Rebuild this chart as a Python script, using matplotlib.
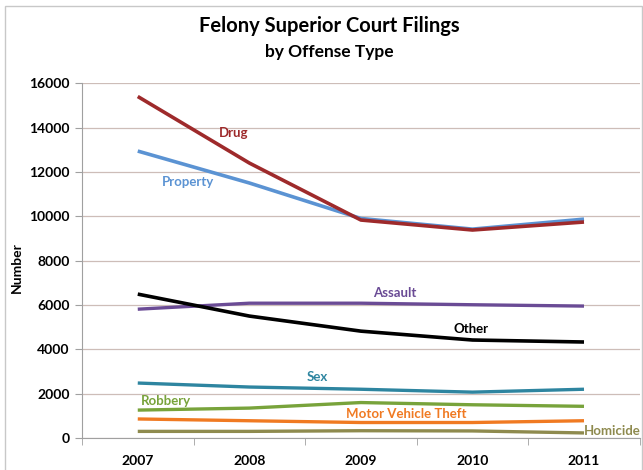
import matplotlib
matplotlib.use("Agg")
import matplotlib.pyplot as plt
from matplotlib.patches import Rectangle

years = ["2007", "2008", "2009", "2010", "2011"]
drug = [15400, 12400, 9830, 9380, 9740]
property_ = [12940, 11500, 9900, 9420, 9870]
assault = [5810, 6080, 6080, 6010, 5950]
other = [6490, 5500, 4820, 4420, 4330]
sex = [2480, 2300, 2200, 2070, 2200]
robbery = [1260, 1350, 1600, 1500, 1430]
mvt = [860, 780, 700, 700, 780]
homicide = [300, 300, 330, 320, 230]

series = [
    ("Property", property_, "#5B93D3"),
    ("Drug", drug, "#9E2A2B"),
    ("Assault", assault, "#6A4B95"),
    ("Other", other, "#000000"),
    ("Sex", sex, "#2E85A0"),
    ("Robbery", robbery, "#78A33B"),
    ("Motor Vehicle Theft", mvt, "#F07A22"),
    ("Homicide", homicide, "#8E8A4E"),
]
# label positions (category index, value, ha)
label_pos = {
    "Drug": (0.86, 13750, "center"),
    "Property": (0.45, 11540, "center"),
    "Assault": (2.3, 6530, "center"),
    "Other": (2.99, 4910, "center"),
    "Sex": (1.61, 2750, "center"),
    "Robbery": (0.25, 1670, "center"),
    "Motor Vehicle Theft": (2.41, 1080, "center"),
    "Homicide": (4.0, 300, "left"),
}

font = "Lato"
fig = plt.figure(figsize=(6.43, 4.70), dpi=100)
fig.patches.append(Rectangle((0.008, -0.01), 0.99, 0.998, transform=fig.transFigure,
                             fill=False, edgecolor="#C8C8C8", linewidth=1.0))
ax = fig.add_axes([0.1275, 0.068, 0.8675, 0.755])

x = list(range(len(years)))
for name, vals, col in series:
    lw = 2.6 if name in ("Drug", "Other", "Property") else 2.4
    ax.plot(x, vals, color=col, linewidth=lw, solid_capstyle="butt")
    lx, ly, ha = label_pos[name]
    ax.text(lx, ly, name, color=col, ha=ha, va="center", fontsize=9.5,
            fontweight="bold", family=font)

ax.set_xlim(-0.5, 4.5)
ax.set_ylim(0, 16000)
ax.set_yticks(range(0, 16001, 2000))
ax.set_yticklabels([str(v) for v in range(0, 16001, 2000)], family=font,
                   fontweight="bold", fontsize=10)
ax.set_xticks(x)
ax.set_xticklabels(years, family=font, fontweight="bold", fontsize=10)
ax.set_xticks([i - 0.5 for i in range(len(years) + 1)], minor=True)
ax.tick_params(axis="x", which="major", length=0, pad=12)
ax.tick_params(axis="x", which="minor", length=5, color="#A0A0A0", direction="out")
ax.tick_params(axis="y", length=5, color="#A0A0A0", pad=4)
ax.grid(axis="y", color="#CDBDB8", linewidth=0.9)
ax.set_axisbelow(True)
for s in ("top", "right"):
    ax.spines[s].set_visible(False)
ax.spines["left"].set_color("#A0A0A0")
ax.spines["bottom"].set_color("#A0A0A0")
fig.text(0.027, 0.43, "Number", rotation=90, ha="center", va="center",
         family=font, fontweight="bold", fontsize=10)

fig.text(0.512, 0.945, "Felony Superior Court Filings", ha="center", va="center",
         fontsize=14.5, fontweight="bold", family=font)
fig.text(0.512, 0.89, "by Offense Type", ha="center", va="center",
         fontsize=12.5, fontweight="bold", family=font)

fig.savefig("out.png", dpi=100)
